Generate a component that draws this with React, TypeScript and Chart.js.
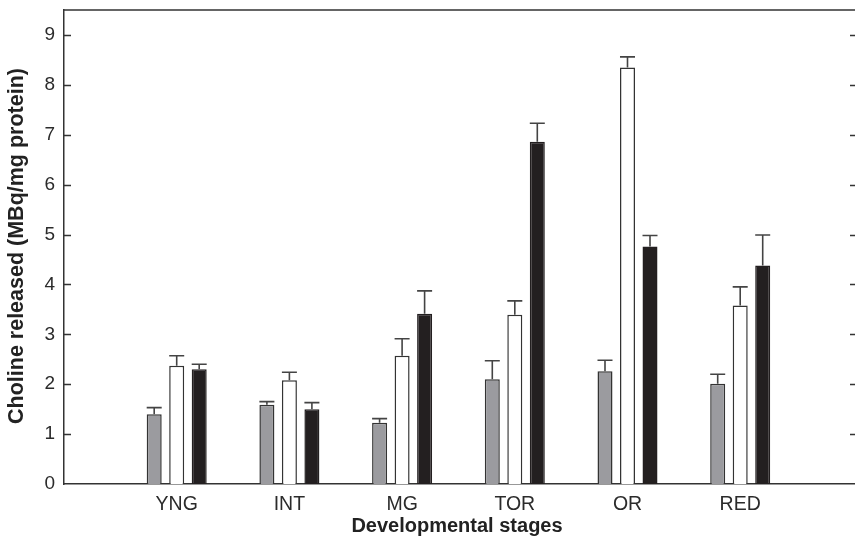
import React, { useEffect, useRef } from "react";
import { Chart, registerables } from "chart.js";

Chart.register(...registerables);

const categories = ["YNG", "INT", "MG", "TOR", "OR", "RED"];
const grayValues = [1.40, 1.59, 1.23, 2.10, 2.26, 2.01];
const grayErrors = [0.13, 0.06, 0.08, 0.37, 0.22, 0.19];
const whiteValues = [2.37, 2.08, 2.57, 3.39, 8.35, 3.58];
const whiteErrors = [0.20, 0.16, 0.34, 0.28, 0.21, 0.37];
const blackValues = [2.30, 1.50, 3.41, 6.86, 4.76, 4.38];
const blackErrors = [0.10, 0.13, 0.46, 0.37, 0.22, 0.61];
const yTicks = [0, 1, 2, 3, 4, 5, 6, 7, 8, 9];

const FONT = "'Liberation Sans', Arial, Helvetica, sans-serif";
const INK = "#2b2b2b";

const errorsBySet = [grayErrors, whiteErrors, blackErrors];

const framePlugin = {
  id: "framePlugin",
  afterDatasetsDraw(chart: any) {
    const { ctx, chartArea, scales } = chart;
    const y = scales.y;
    ctx.save();
    // error bars
    ctx.strokeStyle = "#444";
    ctx.lineWidth = 1.6;
    chart.data.datasets.forEach((ds: any, di: number) => {
      const meta = chart.getDatasetMeta(di);
      const errs = errorsBySet[di];
      meta.data.forEach((bar: any, i: number) => {
        const v = ds.data[i].y;
        const top = y.getPixelForValue(v + errs[i]);
        const base = y.getPixelForValue(v);
        const half = bar.width / 2;
        ctx.beginPath();
        ctx.moveTo(bar.x, base);
        ctx.lineTo(bar.x, top);
        ctx.moveTo(bar.x - half, top);
        ctx.lineTo(bar.x + half, top);
        ctx.stroke();
      });
    });
    // frame
    ctx.strokeStyle = "#333";
    ctx.lineWidth = 1.5;
    ctx.beginPath();
    ctx.moveTo(chartArea.left, chartArea.top);
    ctx.lineTo(chartArea.right, chartArea.top);
    ctx.lineTo(chartArea.right, chartArea.bottom);
    ctx.stroke();
    // inward ticks on left and right
    yTicks.forEach((t) => {
      if (t === 0) return;
      const py = Math.round(y.getPixelForValue(t)) + 0.5;
      ctx.beginPath();
      ctx.moveTo(chartArea.left, py);
      ctx.lineTo(chartArea.left + 7, py);
      ctx.moveTo(chartArea.right, py);
      ctx.lineTo(chartArea.right - 7, py);
      ctx.stroke();
    });
    // axis titles
    ctx.fillStyle = "#222";
    ctx.textAlign = "center";
    ctx.textBaseline = "alphabetic";
    ctx.font = `bold 20px ${FONT}`;
    ctx.fillText("Developmental stages", 457, 532);
    ctx.font = `bold 21.5px ${FONT}`;
    ctx.translate(23, 246);
    ctx.rotate(-Math.PI / 2);
    ctx.fillText("Choline released (MBq/mg protein)", 0, 0);
    ctx.restore();
  },
};

export default function App() {
  const ref = useRef<HTMLCanvasElement>(null);
  useEffect(() => {
    if (!ref.current) return;
    const toPts = (vals: number[]) => vals.map((v, i) => ({ x: i + 1, y: v }));
    const common = {
      borderWidth: 1.5,
      borderColor: "#333",
      categoryPercentage: 0.599,
      barPercentage: 0.667,
      borderSkipped: "bottom" as const,
    };
    const chart = new Chart(ref.current, {
      type: "bar",
      data: {
        datasets: [
          { ...common, label: "gray", data: toPts(grayValues), backgroundColor: "#9b9b9f" },
          { ...common, label: "white", data: toPts(whiteValues), backgroundColor: "#ffffff" },
          { ...common, label: "black", data: toPts(blackValues), backgroundColor: "#231f20", borderColor: "#231f20" },
        ],
      },
      options: {
        responsive: false,
        animation: false,
        layout: { padding: { top: 0, right: 13, left: 0, bottom: 0 } },
        plugins: { legend: { display: false }, tooltip: { enabled: false }, title: { display: false } },
        scales: {
          x: {
            type: "linear",
            offset: false,
            min: 0,
            max: 793 / 112.7,
            grid: { display: false, drawTicks: false, offset: false },
            border: { display: true, color: "#333", width: 1.5 },
            afterBuildTicks: (s: any) => {
              s.ticks = categories.map((_, i) => ({ value: i + 1 }));
            },
            ticks: {
              autoSkip: false,
              maxRotation: 0,
              padding: 9,
              color: INK,
              font: { family: FONT, size: 19.5 },
              callback: (v: any) => {
                const n = Number(v);
                if (Number.isInteger(n) && n >= 1 && n <= categories.length) return categories[n - 1];
                return "";
              },
            },
            afterFit: (s: any) => {
              s.height = 61;
              s.paddingLeft = 0;
              s.paddingRight = 0;
            },
          },
          y: {
            min: 0,
            max: 9.5,
            grid: { display: false, drawTicks: false },
            border: { display: true, color: "#333", width: 1.5 },
            afterBuildTicks: (s: any) => {
              s.ticks = yTicks.map((v) => ({ value: v }));
            },
            ticks: {
              padding: 9,
              color: INK,
              font: { family: FONT, size: 19 },
              callback: (v: any) => String(v),
            },
            afterFit: (s: any) => {
              s.width = 64;
              s.paddingTop = 10;
              s.paddingBottom = 0;
            },
          },
        },
      },
      plugins: [framePlugin],
    });
    return () => chart.destroy();
  }, []);
  return (
    <div style={{ position: "fixed", left: 0, top: 0, width: 855, height: 545, overflow: "hidden", background: "#fff" }}>
      <canvas ref={ref} width={870} height={545} style={{ display: "block" }} />
    </div>
  );
}
